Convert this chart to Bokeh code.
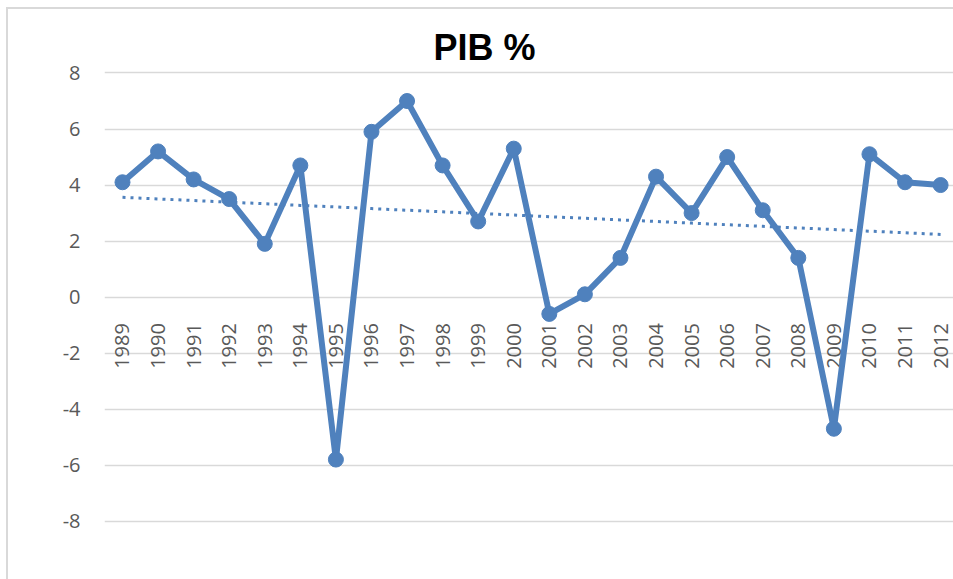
import numpy as np
from bokeh.plotting import figure
from bokeh.models import Range1d, FixedTicker, Title, ColumnDataSource
from bokeh.core.properties import value
from bokeh.embed import file_html
from bokeh.resources import INLINE

# Data
years = [1989, 1990, 1991, 1992, 1993, 1994, 1995, 1996, 1997, 1998, 1999, 2000,
         2001, 2002, 2003, 2004, 2005, 2006, 2007, 2008, 2009, 2010, 2011, 2012]
pib = [4.1, 5.2, 4.2, 3.5, 1.9, 4.7, -5.8, 5.9, 7.0, 4.7, 2.7, 5.3,
       -0.6, 0.1, 1.4, 4.3, 3.0, 5.0, 3.1, 1.4, -4.7, 5.1, 4.1, 4.0]
year_labels = [str(y) for y in years]
y_ticks = [-8, -6, -4, -2, 0, 2, 4, 6, 8]
y_tick_labels = ["-8", "-6", "-4", "-2", "0", "2", "4", "6", "8"]
title_text = "PIB %"

# linear trend (least squares, like the spreadsheet trendline)
idx = np.arange(len(years))
slope, intercept = np.polyfit(idx, pib, 1)
trend = list(intercept + slope * idx)

BLUE = "#4F81BD"
GRID = "#D9D9D9"
GRAY = "#595959"

p = figure(width=953, height=579, output_backend="svg", toolbar_location=None,
           x_range=Range1d(1988.494, 2012.363), y_range=Range1d(-8.082, 8.089),
           min_border_left=104, min_border_right=0, min_border_top=70, min_border_bottom=56)
p.title = None
p.outline_line_color = None
p.background_fill_color = None
p.border_fill_color = None
# chart-area border: only its top and left edges fall inside the picture
p.styles = {
    "background": (f"linear-gradient({GRID}, {GRID}) 6px 7px / 2px 100% no-repeat, "
                   f"linear-gradient({GRID}, {GRID}) 6px 7px / 100% 2px no-repeat, white")
}

p.add_layout(Title(text=title_text, text_font="Liberation Sans", text_font_style="bold",
                   text_font_size="36px", text_color="black", align="left",
                   offset=329, standoff=6), "above")

p.xaxis.visible = False
p.xgrid.visible = False
p.ygrid.grid_line_color = GRID
p.ygrid.grid_line_width = 1.5
p.ygrid.ticker = FixedTicker(ticks=y_ticks)

ya = p.yaxis[0]
ya.ticker = FixedTicker(ticks=y_ticks)
ya.major_label_overrides = {t: s for t, s in zip(y_ticks, y_tick_labels)}
ya.axis_line_color = None
ya.major_tick_line_color = None
ya.minor_tick_line_color = None
ya.major_tick_in = 0
ya.major_tick_out = 0
ya.major_label_standoff = 24
ya.major_label_text_font = "Open Sans"
ya.major_label_text_font_size = "20px"
ya.major_label_text_color = GRAY

# category labels along the zero line
lab_src = ColumnDataSource(dict(x=years, y=[0] * len(years), t=year_labels))
p.text(x="x", y="y", text="t", source=lab_src, angle=np.pi / 2,
       text_align="right", text_baseline="middle", y_offset=26,
       text_font=value("Open Sans"), text_font_size="20px", text_color=GRAY)

# trend line
p.line(years, trend, line_color=BLUE, line_width=3, line_dash="3 5")

# main series
p.line(years, pib, line_color=BLUE, line_width=6, line_join="round")
p.scatter(years, pib, size=15, fill_color=BLUE, line_color=BLUE)

open("out.html", "w").write(file_html(p, INLINE))
